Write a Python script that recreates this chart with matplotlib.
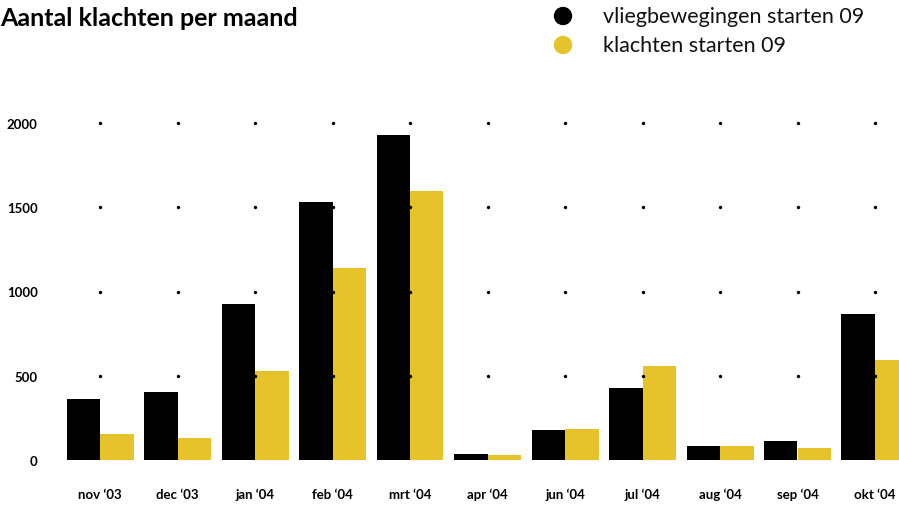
import numpy as np
import matplotlib.pyplot as plt
from matplotlib.patches import Ellipse

months = ["nov \u201803", "dec \u201803", "jan \u201804", "feb \u201804", "mrt \u201804", "apr \u201804",
          "jun \u201804", "jul \u201804", "aug \u201804", "sep \u201804", "okt \u201804"]
vliegbewegingen = [362, 404, 926, 1531, 1929, 36, 178, 427, 83, 113, 866]
klachten = [154, 131, 528, 1139, 1596, 30, 184, 558, 83, 71, 593]
yticks = [0, 500, 1000, 1500, 2000]

black = "#000000"
yellow = "#E6C32B"

W, H = 899, 506
fig = plt.figure(figsize=(W / 100, H / 100), dpi=100)
plt.rcParams['font.family'] = ['Lato', 'DejaVu Sans']

# axes placed in pixel terms
left_px, right_px = 60, 899
bottom_px, top_px = 461, 110
ax = fig.add_axes([left_px / W, (H - bottom_px) / H, (right_px - left_px) / W, (bottom_px - top_px) / H])

step = 77.5
x = np.arange(len(months))
bw = 33.5 / step
ax.bar(x - bw / 2, vliegbewegingen, width=bw, color=black, zorder=2)
ax.bar(x + bw / 2, klachten, width=bw, color=yellow, zorder=2)

# dotted grid
for yv in yticks[1:]:
    ax.scatter(x, [yv] * len(x), s=6, color=black, zorder=3, linewidths=0)

ax.set_xlim((left_px - 100) / step, (right_px - 100) / step)
ax.set_ylim(0, (bottom_px - top_px) / 0.1685)

ax.set_yticks(yticks)
ax.set_yticklabels([str(v) for v in yticks], fontsize=9.5, fontweight='bold')
ax.set_xticks(x)
ax.set_xticklabels(months, fontsize=9.5, fontweight='bold')
ax.tick_params(axis='y', length=0, pad=16)
ax.tick_params(axis='x', length=0, pad=20)
for s in ax.spines.values():
    s.set_visible(False)

fig.text(0.0, 1 - 19 / H, "Aantal klachten per maand", fontsize=18, fontweight='bold',
         va='center', ha='left')

# legend
for i, (lab, col) in enumerate([("vliegbewegingen starten 09", black), ("klachten starten 09", yellow)]):
    yy = 1 - (17 + 29 * i) / H
    fig.patches.append(Ellipse((563 / W, yy), 17 / W, 17 / H, transform=fig.transFigure,
                               color=col, figure=fig))
    fig.text(603 / W, yy, lab, fontsize=15.5, fontweight='normal', color='#111111',
             va='center', ha='left')

fig.savefig("out.png", dpi=100)
